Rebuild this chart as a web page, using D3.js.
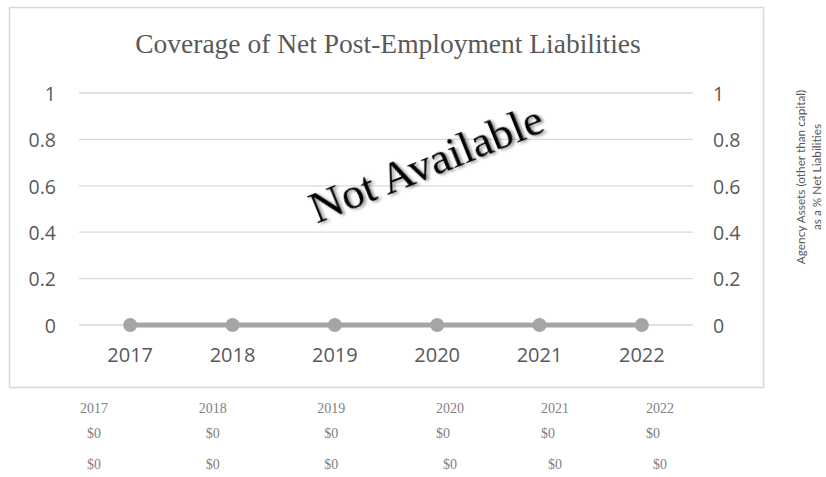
<!DOCTYPE html>
<html><head><meta charset="utf-8">
<script src="https://cdn.jsdelivr.net/npm/d3@7"></script>
<style>body{margin:0;background:#fff}svg{display:block}</style>
</head><body><svg id="c" width="826" height="477"></svg>
<script>
const years = [2017, 2018, 2019, 2020, 2021, 2022];
const values = [0, 0, 0, 0, 0, 0];
const yTicks = [0, 0.2, 0.4, 0.6, 0.8, 1];
const tableRow1 = ["$0", "$0", "$0", "$0", "$0", "$0"];
const tableRow2 = ["$0", "$0", "$0", "$0", "$0", "$0"];
const title = "Coverage of Net Post-Employment Liabilities";
const overlay = "Not Available";
const rightTitle = ["Agency Assets (other than capital)", "as a % Net Liabilities"];

const svg = d3.select("#c");
const grey = "#595959";
const sans = "'Open Sans', 'Noto Sans', sans-serif";
const serif = "'Liberation Serif', 'DejaVu Serif', serif";

svg.append("rect").attr("x", 9.5).attr("y", 7.5).attr("width", 754).attr("height", 380)
  .attr("fill", "#fff").attr("stroke", "#d9d9d9").attr("stroke-width", 1.5);

const x = d3.scaleBand().domain(years).range([79, 693]);
const y = d3.scaleLinear().domain([0, 1]).range([325, 93]);

svg.append("text").attr("x", 388).attr("y", 53).attr("text-anchor", "middle")
  .attr("font-family", serif).attr("font-size", 27.5).attr("fill", grey).text(title);

// gridlines
svg.append("g").selectAll("line").data(yTicks).join("line")
  .attr("x1", 79).attr("x2", 693).attr("y1", d => y(d)).attr("y2", d => y(d))
  .attr("stroke", "#d9d9d9").attr("stroke-width", 1.3);

// left axis
const fmt = d => String(+d.toFixed(1));
const la = svg.append("g").attr("transform", "translate(56,1)")
  .call(d3.axisLeft(y).tickValues(yTicks).tickFormat(fmt).tickSize(0).tickPadding(0));
la.select(".domain").remove();
la.selectAll("text").attr("font-family", sans).attr("font-size", 19.5).attr("fill", grey);

const ra = svg.append("g").attr("transform", "translate(713,1)")
  .call(d3.axisRight(y).tickValues(yTicks).tickFormat(fmt).tickSize(0).tickPadding(0));
ra.select(".domain").remove();
ra.selectAll("text").attr("font-family", sans).attr("font-size", 19.5).attr("fill", grey);

// bottom axis
const ba = svg.append("g").attr("transform", "translate(0,348)")
  .call(d3.axisBottom(x).tickSize(0).tickPadding(0));
ba.select(".domain").remove();
ba.selectAll("text").attr("font-family", sans).attr("font-size", 20).attr("fill", grey);

// line + markers
const cx = d => x(d) + x.bandwidth() / 2;
svg.append("path").datum(years.map((yr, i) => [yr, values[i]]))
  .attr("d", d3.line().x(d => cx(d[0])).y(d => y(d[1])))
  .attr("fill", "none").attr("stroke", "#a5a5a5").attr("stroke-width", 5);
svg.append("g").selectAll("circle").data(years).join("circle")
  .attr("cx", d => cx(d)).attr("cy", (d, i) => y(values[i])).attr("r", 7)
  .attr("fill", "#a5a5a5");

// right axis title
const rt = svg.append("text").attr("transform", "translate(805,177) rotate(-90)")
  .attr("text-anchor", "middle").attr("font-family", "Lato, 'Open Sans', sans-serif").attr("font-size", 11.8).attr("fill", grey);
rt.selectAll("tspan").data(rightTitle).join("tspan")
  .attr("x", 0).attr("dy", (d, i) => i ? 16 : 0).text(d => d);

// overlay "Not Available"
const defs = svg.append("defs");
const f = defs.append("filter").attr("id", "sh").attr("x", "-10%").attr("y", "-30%").attr("width", "130%").attr("height", "170%");
f.append("feDropShadow").attr("dx", 2).attr("dy", 2).attr("stdDeviation", 1.5).attr("flood-color", "#000").attr("flood-opacity", 0.45);
svg.append("text").attr("transform", "translate(428,168) rotate(-22)")
  .attr("text-anchor", "middle").attr("dominant-baseline", "middle")
  .attr("font-family", serif).attr("font-size", 45).attr("fill", "#000")
  .attr("filter", "url(#sh)").text(overlay);

// table below
const tx = d3.scaleLinear().domain([2017, 2020, 2022]).range([94, 450, 660]);
const tcol = "#7f7f7f";
const tg = svg.append("g").attr("font-family", serif).attr("font-size", 14).attr("fill", tcol).attr("text-anchor", "middle");
tg.selectAll(".yr").data(years).join("text").attr("class", "yr")
  .attr("x", d => tx(d)).attr("y", 413).text(d => d);
tg.selectAll(".r1").data(tableRow1).join("text").attr("class", "r1")
  .attr("x", (d, i) => tx(years[i]) - (i >= 3 ? 7 : 0)).attr("y", 438).text(d => d);
tg.selectAll(".r2").data(tableRow2).join("text").attr("class", "r2")
  .attr("x", (d, i) => tx(years[i])).attr("y", 469).text(d => d);
</script></body></html>
